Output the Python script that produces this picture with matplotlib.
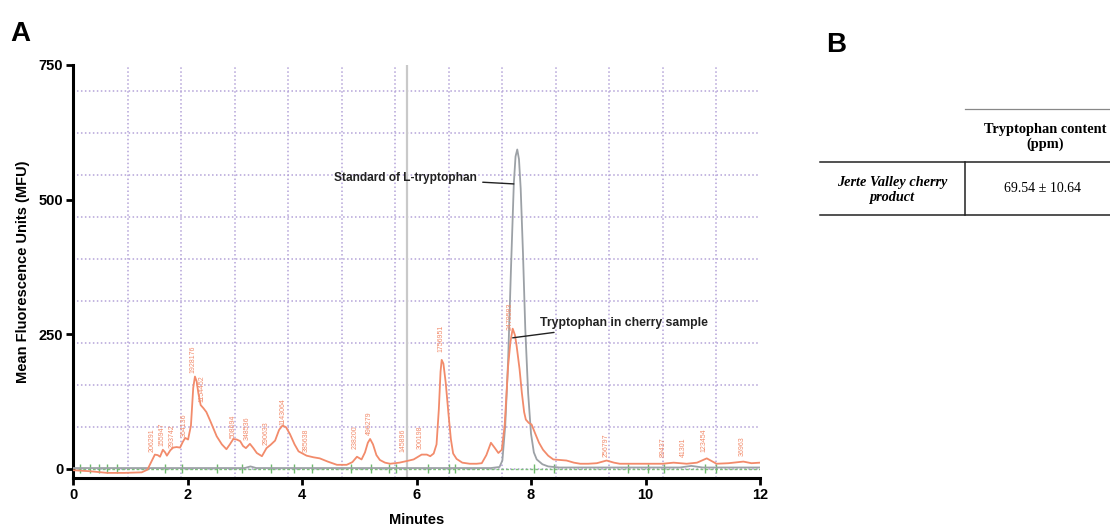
import matplotlib
matplotlib.use("Agg")
import matplotlib.pyplot as plt
from matplotlib.lines import Line2D

plt.rcParams['font.family'] = ['Liberation Sans', 'DejaVu Sans']

# ---------------- data ----------------
sample_t = [0, 0.3, 0.6, 0.9, 1.2, 1.3, 1.38, 1.43, 1.48, 1.52, 1.57, 1.61, 1.64, 1.70, 1.75,
            1.81, 1.87, 1.92, 1.96, 2.01, 2.06, 2.10, 2.13, 2.16, 2.19, 2.23, 2.28, 2.33, 2.40,
            2.51, 2.60, 2.68, 2.74, 2.80, 2.86, 2.92, 2.97, 3.02, 3.09, 3.15, 3.21, 3.30, 3.38,
            3.45, 3.53, 3.60, 3.66, 3.72, 3.79, 3.87, 3.94, 4.08, 4.20, 4.31, 4.45, 4.61, 4.78,
            4.88, 4.96, 5.04, 5.10, 5.15, 5.19, 5.24, 5.30, 5.36, 5.45, 5.54, 5.70, 5.83, 5.95,
            6.09, 6.18, 6.24, 6.30, 6.35, 6.39, 6.42, 6.44, 6.47, 6.51, 6.56, 6.60, 6.64, 6.70,
            6.80, 6.93, 7.05, 7.14, 7.22, 7.30, 7.37, 7.43, 7.49, 7.54, 7.60, 7.64, 7.68, 7.72,
            7.75, 7.80, 7.84, 7.88, 7.91, 7.96, 8.01, 8.07, 8.14, 8.21, 8.30, 8.39, 8.50, 8.62,
            8.75, 8.86, 9.0, 9.15, 9.32, 9.45, 9.55, 9.80, 10.14, 10.30, 10.49, 10.72, 10.90,
            11.07, 11.17, 11.24, 11.45, 11.71, 11.85, 12.0]
sample_v = [-3, -5, -8, -8, -7, -2, 15, 26, 25, 22, 35, 30, 24, 34, 39,
            40, 39, 50, 57, 54, 80, 150, 171, 162, 140, 118, 112, 105, 88,
            60, 45, 36, 45, 55, 54, 51, 42, 38, 46, 38, 29, 23, 38,
            44, 52, 72, 80, 77, 64, 45, 32, 24, 21, 19, 13, 7, 7,
            12, 22, 17, 30, 48, 55, 45, 25, 16, 11, 9, 11, 14, 17,
            26, 26, 23, 28, 45, 110, 180, 202, 195, 160, 100, 55, 28, 18,
            11, 9, 9, 10, 25, 48, 38, 29, 35, 80, 190, 235, 260, 248,
            227, 185, 141, 105, 91, 85, 82, 66, 48, 35, 24, 17, 16, 15,
            11, 9, 9, 10, 15, 11, 9, 9, 9, 9, 11, 9, 11,
            19, 13, 9, 10, 13, 10, 11]

standard_t = [0, 2, 3.0, 3.1, 3.2, 4, 6, 7.3, 7.45, 7.5, 7.55, 7.6, 7.65, 7.7, 7.73, 7.76, 7.79,
              7.82, 7.86, 7.9, 7.95, 8.0, 8.05, 8.1, 8.2, 8.3, 8.5, 10, 10.6, 10.8, 11.0, 12]
standard_v = [1, 1, 1, 4, 1, 1, 1, 1, 3, 15, 80, 200, 370, 530, 580, 593, 575,
              520, 400, 260, 140, 65, 30, 17, 8, 4, 2, 2, 2, 5, 2, 2]

peak_t = [1.38, 1.55, 1.73, 1.94, 2.09, 2.25, 2.79, 3.05, 3.37, 3.67, 4.08, 4.92, 5.18,
          5.76, 6.07, 6.42, 7.64, 9.32, 10.31, 10.66, 11.03, 11.69]
peak_y = [31, 42, 38, 59, 178, 124, 57, 53, 44, 81, 31, 36, 62,
          31, 36, 217, 257, 21, 21, 21, 31, 23]
peak_labels = ["206291", "155947", "293742", "364136", "1928176", "1154452", "508694",
               "348536", "290633", "1143064", "385638", "238200", "496279", "145896",
               "300198", "1756951", "2479583", "256797", "89437", "41301", "123454", "36963"]

integration_marks = [0.12, 0.29, 0.45, 0.6, 0.76, 1.6, 1.91, 2.51, 2.95, 3.46, 3.86, 4.17,
                     4.85, 5.2, 5.52, 5.64, 6.2, 6.56, 6.67, 8.06, 8.41, 9.69, 10.04, 10.32,
                     11.04, 11.24]

grid_x = [0.96, 1.89, 2.83, 3.76, 4.70, 5.63, 6.57, 7.50, 8.44, 9.37, 10.31, 11.24]
grid_y = [0, 78, 156, 234, 312, 390, 468, 546, 624, 702]

x_ticks = [0, 2, 4, 6, 8, 10, 12]
y_ticks = [0, 250, 500, 750]

table_header = "Tryptophan content\n(ppm)"
table_row = "Jerte Valley cherry\nproduct"
table_value = "69.54 ± 10.64"

# ---------------- figure ----------------
W, H = 1110, 530
fig = plt.figure(figsize=(W / 100, H / 100), dpi=100)
ax = fig.add_axes([73 / W, 1 - 478 / H, (760 - 73) / W, (478 - 65) / H])
ax.set_xlim(0, 12)
ax.set_ylim(-17.5, 750)

grid_col = '#b4a3d8'
for gx in grid_x:
    ax.axvline(gx, color=grid_col, lw=1.1, ls=(0, (1, 1.6)), zorder=1)
for gy in grid_y:
    ax.axhline(gy, color=grid_col, lw=1.1, ls=(0, (1, 1.6)), zorder=1)
ax.axvline(5.83, color='#c9c9c9', lw=1.6, zorder=1)

# green baseline and integration marks
ax.axhline(0, color='#7cc07a', lw=1.0, ls=(0, (2, 1.5)), zorder=2)
ax.vlines(integration_marks, -9, 9, color='#6fb86d', lw=1.0, zorder=2)

ax.plot(standard_t, standard_v, color='#9ca1a6', lw=1.3, zorder=3)
ax.plot(sample_t, sample_v, color='#f28b6b', lw=1.3, zorder=4)

for t, y, s in zip(peak_t, peak_y, peak_labels):
    ax.text(t, y, s, rotation=90, ha='center', va='bottom', fontsize=5,
            color='#f28b6b', zorder=5)

ax.annotate("Standard of L-tryptophan", xy=(7.70, 529), xytext=(7.06, 540),
            ha='right', va='center', fontsize=8.6, fontweight='bold', color='#222222',
            arrowprops=dict(arrowstyle='-', color='#222222', lw=1.0,
                            shrinkA=2, shrinkB=0), zorder=6)
ax.annotate("Tryptophan in cherry sample", xy=(7.68, 243), xytext=(8.16, 270),
            ha='left', va='center', fontsize=8.8, fontweight='bold', color='#222222',
            arrowprops=dict(arrowstyle='-', color='#222222', lw=1.0,
                            shrinkA=2, shrinkB=0), zorder=6)

for side in ['top', 'right']:
    ax.spines[side].set_visible(False)
for side in ['left', 'bottom']:
    ax.spines[side].set_linewidth(2.2)
ax.set_xticks(x_ticks)
ax.set_yticks(y_ticks)
ax.tick_params(width=2, length=5, labelsize=10.5, pad=2)
for lab in ax.get_xticklabels() + ax.get_yticklabels():
    lab.set_fontweight('bold')
ax.set_xlabel("Minutes", fontsize=10.5, fontweight='bold', labelpad=8)
ax.set_ylabel("Mean Fluorescence Units (MFU)", fontsize=10.5, fontweight='bold', labelpad=6)

fig.text(20 / W, 1 - 34 / H, "A", fontsize=20, fontweight='bold', ha='center', va='center')
fig.text(836 / W, 1 - 45 / H, "B", fontsize=20, fontweight='bold', ha='center', va='center')

# ---------------- table B ----------------
serif = ['Liberation Serif', 'DejaVu Serif']
def fx(px): return px / W
def fy(py): return 1 - py / H
fig.add_artist(Line2D([fx(965), fx(1110)], [fy(109), fy(109)], color='#888888', lw=0.9))
fig.add_artist(Line2D([fx(820), fx(1110)], [fy(162), fy(162)], color='#222222', lw=1.1))
fig.add_artist(Line2D([fx(820), fx(1110)], [fy(215), fy(215)], color='#222222', lw=1.1))
fig.add_artist(Line2D([fx(965), fx(965)], [fy(162), fy(215)], color='#222222', lw=1.1))
fig.text(fx(1045), fy(137), table_header, family=serif, fontsize=10.4, fontweight='bold',
         ha='center', va='center', linespacing=1.1)
fig.text(fx(892), fy(190), table_row, family=serif, fontsize=10.3, fontweight='bold',
         style='italic', ha='center', va='center', linespacing=1.15)
fig.text(fx(1043), fy(189), table_value, family=serif, fontsize=10,
         ha='center', va='center')

fig.savefig("out.png", dpi=100)
